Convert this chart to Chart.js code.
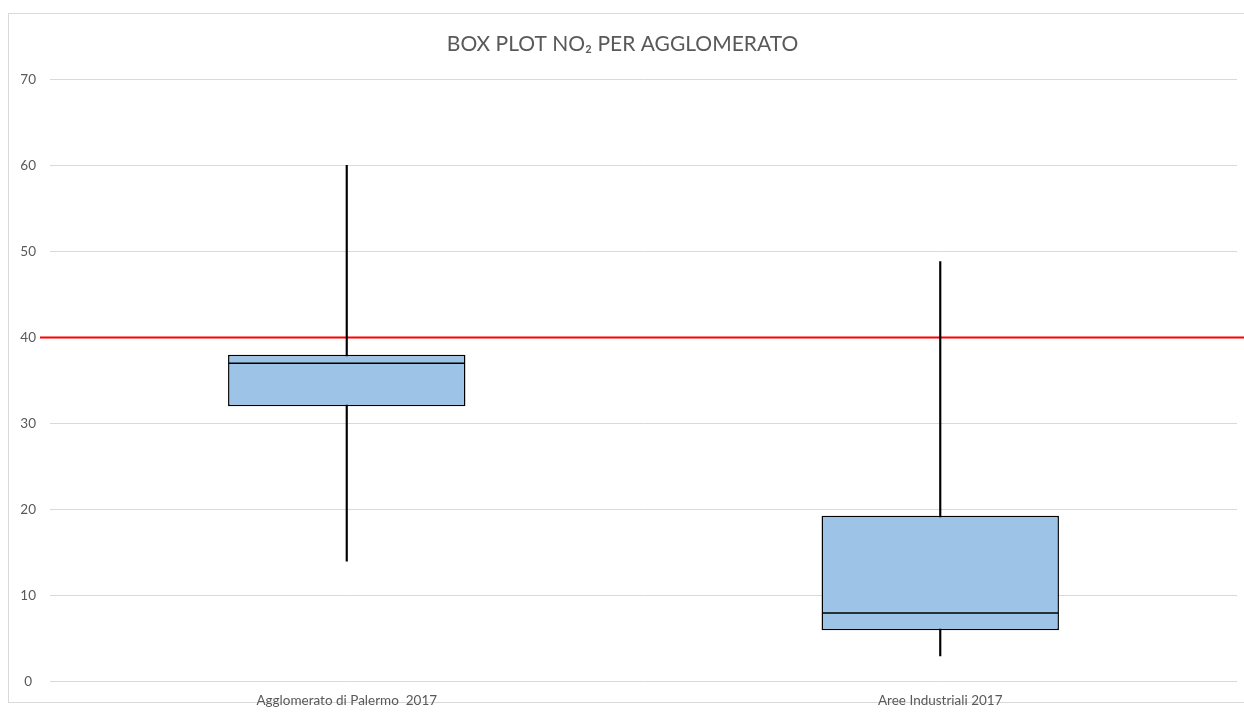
<!DOCTYPE html>
<html>
<head>
<meta charset="utf-8">
<script src="https://cdn.jsdelivr.net/npm/chart.js@4"></script>
<style>
    body { margin: 0; background: #fff; overflow: hidden; }
    #frame {
        position: absolute;
        left: 8px;
        top: 13px;
        width: 1250px;
        height: 688px;
        border: 1px solid #d9d9d9;
    }
    #wrap {
        position: absolute;
        left: 8px;
        top: 13px;
        width: 1236px;
        height: 703px;
    }
</style>
</head>
<body>
<div id="frame"></div>
<div id="wrap"><canvas id="boxChart"></canvas></div>
<script>
const categories = ['Agglomerato di Palermo  2017', 'Aree Industriali 2017'];
const minValues = [14, 3];
const q1Values = [32, 6];
const medianValues = [37, 8];
const q3Values = [38, 19.3];
const maxValues = [60, 48.8];
const limitValue = 40;

const boxFill = '#9dc3e6';
const labelColor = '#595959';

// red limit line at 40, runs past the plot area to the right edge
const limitLine = {
    id: 'limitLine',
    beforeDatasetsDraw(chart) {
        const y = chart.scales.y.getPixelForValue(limitValue);
        const ctx = chart.ctx;
        ctx.save();
        ctx.strokeStyle = '#ff0000';
        ctx.lineWidth = 2;
        ctx.beginPath();
        ctx.moveTo(chart.chartArea.left - 10, y);
        ctx.lineTo(chart.width, y);
        ctx.stroke();
        ctx.restore();
    }
};

const whiskers = categories.map((c, i) => [minValues[i], maxValues[i]]);
const boxes = categories.map((c, i) => [q1Values[i], q3Values[i]]);

new Chart(document.querySelector('#boxChart'), {
    type: 'bar',
    data: {
        labels: categories,
        datasets: [
            {
                label: 'whisker',
                data: whiskers,
                backgroundColor: '#000',
                barThickness: 1.5,
                grouped: false,
                order: 3
            },
            {
                label: 'box',
                data: boxes,
                backgroundColor: boxFill,
                borderColor: '#000',
                borderWidth: 1.5,
                borderSkipped: false,
                barPercentage: 0.4,
                categoryPercentage: 1.0,
                grouped: false,
                order: 2
            },
            {
                type: 'line',
                label: 'median',
                data: medianValues,
                showLine: false,
                pointStyle: 'line',
                pointRadius: 118,
                pointHoverRadius: 118,
                pointBorderWidth: 1.5,
                borderColor: '#000',
                clip: false,
                order: 1
            }
        ]
    },
    options: {
        responsive: true,
        maintainAspectRatio: false,
        animation: false,
        layout: {
            autoPadding: false,
            padding: { left: 0, right: 7, top: 0, bottom: 4 }
        },
        plugins: {
            legend: { display: false },
            tooltip: { enabled: false },
            title: {
                display: true,
                text: 'BOX PLOT NO₂ PER AGGLOMERATO',
                color: labelColor,
                font: { family: 'Lato', size: 21, weight: 'normal' },
                padding: { top: 19, bottom: 22 }
            }
        },
        scales: {
            x: {
                grid: { display: false },
                border: { display: false },
                ticks: {
                    color: labelColor,
                    font: { family: 'Lato', size: 13.5 },
                    padding: 3
                }
            },
            y: {
                min: 0,
                max: 70,
                afterFit(scale) { scale.width = 42; },
                grid: { color: '#d9d9d9', drawTicks: false },
                border: { display: false },
                ticks: {
                    stepSize: 10,
                    color: labelColor,
                    font: { family: 'Lato', size: 13.5 },
                    crossAlign: 'center',
                    padding: 14
                }
            }
        }
    },
    plugins: [limitLine]
});
</script>
</body>
</html>
